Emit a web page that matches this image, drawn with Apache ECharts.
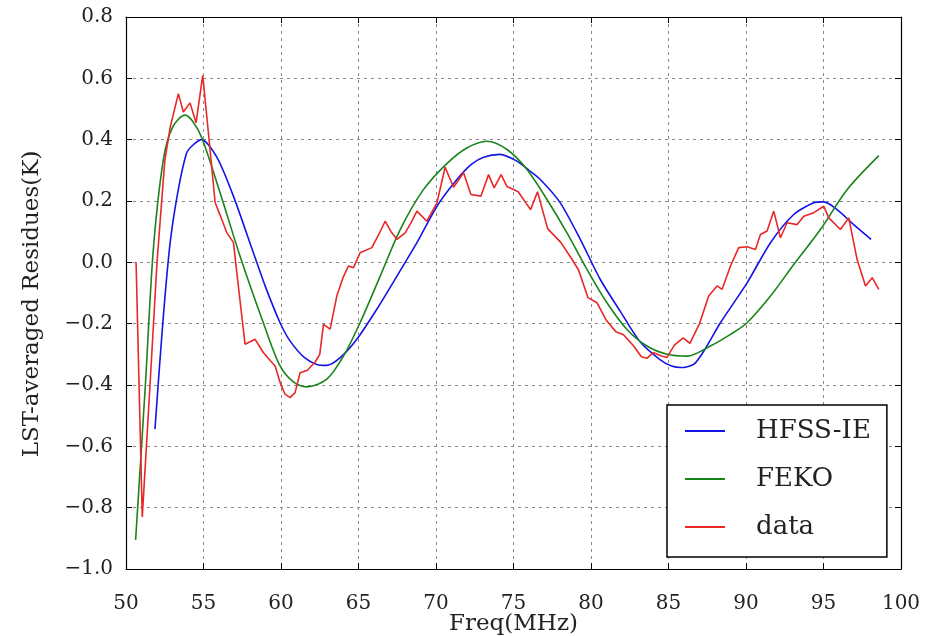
<!DOCTYPE html>
<html>
<head>
<meta charset="utf-8">
<script src="https://cdn.jsdelivr.net/npm/echarts@6/dist/echarts.min.js"></script>
<style>html,body{margin:0;padding:0;background:#fff;}#c{width:927px;height:636px;}</style>
</head>
<body>
<div id="c"></div>
<script>
// ---- data ----
const xTicks = [50, 55, 60, 65, 70, 75, 80, 85, 90, 95, 100];
const yTicks = [-1.0, -0.8, -0.6, -0.4, -0.2, 0.0, 0.2, 0.4, 0.6, 0.8];
const seriesNames = ['HFSS-IE', 'FEKO', 'data'];

const hfssFreq = [51.87, 52.84, 53.9, 54.89, 55.86, 56.93, 58.22, 59.0, 59.94, 60.59, 61.5, 62.31, 62.96, 63.82, 64.89, 66.18, 67.48, 68.77, 70.06, 71.35, 72.3, 73.07, 74.14, 75.22, 76.0, 76.73, 78.02, 79.31, 80.6, 81.89, 83.18, 84.47, 85.2, 85.8, 86.62, 87.27, 88.35, 90.07, 91.58, 93.08, 94.37, 95.02, 95.88, 96.95, 98.07];
const hfssVals = [-0.544, 0.06, 0.355, 0.40, 0.343, 0.216, 0.031, -0.08, -0.197, -0.257, -0.31, -0.333, -0.336, -0.311, -0.251, -0.153, -0.045, 0.064, 0.183, 0.27, 0.32, 0.343, 0.352, 0.33, 0.30, 0.27, 0.194, 0.075, -0.056, -0.160, -0.260, -0.318, -0.338, -0.343, -0.333, -0.290, -0.197, -0.067, 0.064, 0.156, 0.194, 0.197, 0.172, 0.123, 0.075];

const fekoFreq = [50.62, 51.25, 51.76, 52.41, 53.0, 53.81, 54.3, 54.89, 56.07, 57.36, 58.86, 59.94, 60.8, 61.66, 62.96, 64.03, 65.1, 66.4, 67.69, 69.19, 70.7, 71.99, 73.28, 74.58, 75.87, 77.16, 78.45, 79.74, 81.03, 82.32, 83.61, 84.9, 86.2, 87.7, 89.0, 90.07, 91.58, 93.08, 94.8, 96.52, 98.57];
const fekoVals = [-0.905, -0.40, 0.04, 0.335, 0.44, 0.48, 0.46, 0.406, 0.227, 0.02, -0.197, -0.338, -0.39, -0.406, -0.381, -0.306, -0.197, -0.045, 0.107, 0.237, 0.322, 0.373, 0.395, 0.368, 0.303, 0.205, 0.096, -0.023, -0.132, -0.219, -0.273, -0.30, -0.306, -0.273, -0.235, -0.197, -0.11, -0.007, 0.107, 0.237, 0.348];

const dataFreq = [50.65, 51.05, 51.55, 52.0, 52.5, 52.85, 53.38, 53.7, 54.13, 54.52, 54.95, 55.38, 55.75, 56.1, 56.5, 56.93, 57.3, 57.68, 58.33, 58.86, 59.3, 59.62, 59.94, 60.26, 60.59, 60.91, 61.23, 61.7, 62.2, 62.5, 62.74, 63.17, 63.6, 64.0, 64.35, 64.67, 65.1, 65.86, 66.3, 66.72, 67.1, 67.48, 68.01, 68.4, 68.77, 69.41, 70.06, 70.59, 71.13, 71.78, 72.25, 72.9, 73.39, 73.75, 74.2, 74.58, 75.3, 76.1, 76.55, 77.2, 78.05, 78.77, 79.2, 79.8, 80.39, 81.0, 81.6, 82.1, 82.75, 83.25, 83.61, 84.0, 84.6, 84.9, 85.38, 85.95, 86.38, 87.0, 87.59, 88.13, 88.46, 89.0, 89.53, 90.07, 90.61, 90.93, 91.36, 91.79, 92.22, 92.65, 93.3, 93.73, 94.37, 95.02, 95.34, 96.09, 96.63, 97.17, 97.71, 98.14, 98.57];
const dataVals = [0.00, -0.83, -0.40, 0.00, 0.33, 0.44, 0.55, 0.49, 0.52, 0.455, 0.61, 0.39, 0.195, 0.15, 0.097, 0.065, -0.10, -0.267, -0.251, -0.294, -0.32, -0.338, -0.392, -0.43, -0.441, -0.425, -0.36, -0.352, -0.325, -0.30, -0.202, -0.218, -0.11, -0.05, -0.012, -0.018, 0.031, 0.048, 0.09, 0.134, 0.10, 0.075, 0.096, 0.13, 0.167, 0.134, 0.194, 0.31, 0.245, 0.292, 0.221, 0.216, 0.286, 0.243, 0.286, 0.247, 0.23, 0.172, 0.23, 0.11, 0.065, 0.01, -0.025, -0.115, -0.132, -0.19, -0.226, -0.236, -0.273, -0.308, -0.313, -0.294, -0.306, -0.31, -0.27, -0.246, -0.264, -0.20, -0.11, -0.077, -0.088, -0.012, 0.048, 0.051, 0.042, 0.091, 0.102, 0.167, 0.08, 0.129, 0.123, 0.15, 0.162, 0.183, 0.145, 0.107, 0.145, 0.009, -0.077, -0.05, -0.088];

const colors = ['#1414e6', '#1a841a', '#e82828'];

function pairs(xs, ys) { return xs.map((x, i) => [x, ys[i]]); }

const FONT = 'DejaVu Serif';
const chart = echarts.init(document.getElementById('c'), null, { renderer: 'canvas' });

const gridLine = { show: true, lineStyle: { color: '#8a8a8a', type: [3, 4], width: 1 } };
const tickStyle = { show: true, inside: true, length: 6, lineStyle: { color: '#000', width: 1 } };
const axisLineStyle = { show: true, onZero: false, lineStyle: { color: '#000', width: 1.2 } };

chart.setOption({
  animation: false,
  backgroundColor: '#fff',
  grid: { left: 126, right: 26, top: 17, bottom: 67, show: false, containLabel: false, outerBoundsMode: 'none' },
  xAxis: [
    {
      type: 'value', min: xTicks[0], max: xTicks[xTicks.length - 1], interval: 5,
      position: 'bottom',
      name: 'Freq(MHz)', nameLocation: 'middle', nameGap: 44, nameMoveOverlap: false,
      nameTextStyle: { fontFamily: FONT, fontSize: 23, color: '#222' },
      axisLine: axisLineStyle, axisTick: tickStyle,
      axisLabel: { fontFamily: FONT, fontSize: 20, color: '#222', margin: 25 },
      splitLine: gridLine
    },
    {
      type: 'value', min: xTicks[0], max: xTicks[xTicks.length - 1], interval: 5,
      position: 'top',
      axisLine: axisLineStyle, axisTick: tickStyle,
      axisLabel: { show: false }, splitLine: { show: false }
    }
  ],
  yAxis: [
    {
      type: 'value', min: yTicks[0], max: yTicks[yTicks.length - 1], interval: 0.2,
      position: 'left',
      name: 'LST-averaged Residues(K)', nameLocation: 'middle', nameGap: 82, nameRotate: 90, nameMoveOverlap: false,
      nameTextStyle: { fontFamily: FONT, fontSize: 23, color: '#222', padding: [0, 22, 0, 0] },
      axisLine: axisLineStyle, axisTick: tickStyle,
      axisLabel: {
        fontFamily: FONT, fontSize: 20, color: '#222', margin: 13,
        formatter: v => (v < 0 ? '\u2212' : '') + Math.abs(v).toFixed(1)
      },
      splitLine: gridLine
    },
    {
      type: 'value', min: yTicks[0], max: yTicks[yTicks.length - 1], interval: 0.2,
      position: 'right',
      axisLine: axisLineStyle, axisTick: tickStyle,
      axisLabel: { show: false }, splitLine: { show: false }
    }
  ],
  legend: {
    orient: 'vertical',
    left: 667, top: 405,
    padding: [13, 16, 17, 18],
    itemGap: 22,
    itemWidth: 40, itemHeight: 2,
    icon: 'rect',
    borderColor: '#000', borderWidth: 1.5,
    backgroundColor: '#fff',
    textStyle: { fontFamily: FONT, fontSize: 26, color: '#222', padding: [0, 0, 0, 26] },
    data: seriesNames
  },
  series: [
    {
      name: seriesNames[0], type: 'line', data: pairs(hfssFreq, hfssVals),
      showSymbol: false, symbol: 'none', smooth: 0.25,
      lineStyle: { color: colors[0], width: 1.6 }, itemStyle: { color: colors[0] }, z: 2
    },
    {
      name: seriesNames[1], type: 'line', data: pairs(fekoFreq, fekoVals),
      showSymbol: false, symbol: 'none', smooth: 0.3,
      lineStyle: { color: colors[1], width: 1.6 }, itemStyle: { color: colors[1] }, z: 3
    },
    {
      name: seriesNames[2], type: 'line', data: pairs(dataFreq, dataVals),
      showSymbol: false, symbol: 'none', smooth: false,
      lineStyle: { color: colors[2], width: 1.6 }, itemStyle: { color: colors[2] }, z: 4
    }
  ]
});
</script>
</body>
</html>
